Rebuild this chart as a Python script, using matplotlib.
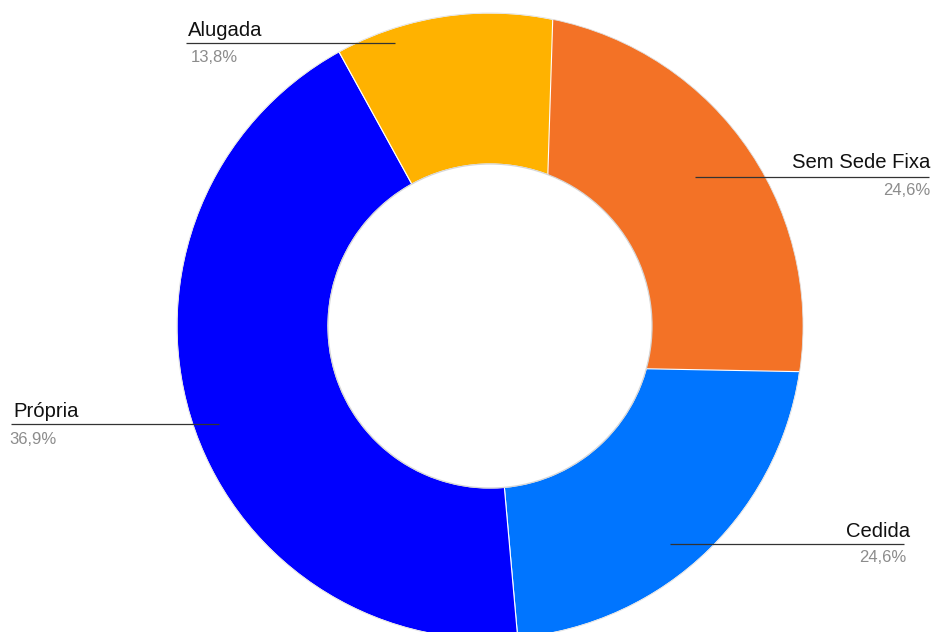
import matplotlib
matplotlib.use("Agg")
import matplotlib.pyplot as plt
from matplotlib.patches import Circle, Wedge

# ---- data ----
categories = ["Sem Sede Fixa", "Cedida", "Própria", "Alugada"]
# slice sizes as drawn around the ring centre (in %)
shares = [20.3, 21.9, 43.4, 14.4]
# the "Sem Sede Fixa" slice is drawn from an offset vertex in the picture
sem_sede_share = 24.8
pct_labels = ["24,6%", "24,6%", "36,9%", "13,8%"]  # percentage texts shown
colors = ["#F37226", "#0075FF", "#0000FF", "#FFB200"]

W, H = 933, 632
fig = plt.figure(figsize=(W / 100, H / 100), dpi=100)
ax = fig.add_axes([0, 0, 1, 1])

def Y(py):
    return H - py

cx, cy = 490, Y(326)
R, r_in = 313, 162
edge = dict(edgecolor="white", linewidth=0.8)

wedges_main, _ = ax.pie(shares, colors=colors, startangle=90 - 23,
                        counterclock=False, radius=R, center=(cx, cy),
                        wedgeprops=dict(width=R - r_in, **edge))
for w in wedges_main:
    w.set_zorder(1)

# offset-vertex slice (masked to the ring below)
wedges, _ = ax.pie([sem_sede_share, 100 - sem_sede_share],
                   colors=[colors[0], "none"], startangle=90 - 1.8,
                   counterclock=False, radius=420,
                   center=(541.8, Y(366.8)), wedgeprops=edge)
wedges[1].set_edgecolor("none")
for w in wedges:
    w.set_zorder(2)

# white masks outside the ring and in the hole
ax.add_patch(Wedge((cx, cy), 3000, 0, 360, width=3000 - R,
                   facecolor="white", edgecolor="none", zorder=3))
ax.add_patch(Circle((cx, cy), r_in, facecolor="white",
                    edgecolor="#d6d6d6", lw=0.9, zorder=3))
ax.add_patch(Circle((cx, cy), R, fill=False, edgecolor="#e0e0e0",
                    lw=0.6, zorder=3))

ax.set_xlim(0, W)
ax.set_ylim(0, H)
ax.set_aspect("equal")
ax.axis("off")

font = "Liberation Sans"
# label layout: (name baseline, line y, line x0, line x1, pct baseline, text x, ha, pct x)
layout = {
    "Alugada":       (36, 42.7, 186, 395, 61.5, 188, "left", 191),
    "Sem Sede Fixa": (168, 176.7, 695, 929, 195, 930, "right", 930),
    "Própria":       (417, 424, 11, 219, 443.5, 13, "left", 9),
    "Cedida":        (537, 544.3, 670, 904, 562.5, 910, "right", 906),
}
for cat, pct in zip(categories, pct_labels):
    nb, ly, x0, x1, pb, tx, ha, px = layout[cat]
    ax.plot([x0, x1], [Y(ly), Y(ly)], color="#333333", lw=0.9,
            solid_capstyle="butt", zorder=5)
    ax.text(tx, Y(nb), cat, ha=ha, va="baseline", fontsize=14.6,
            family=font, color="#111111", zorder=6)
    ax.text(px, Y(pb), pct, ha=ha, va="baseline", fontsize=12,
            family=font, color="#8c8c8c", zorder=6)

fig.savefig("out.png", dpi=100)
